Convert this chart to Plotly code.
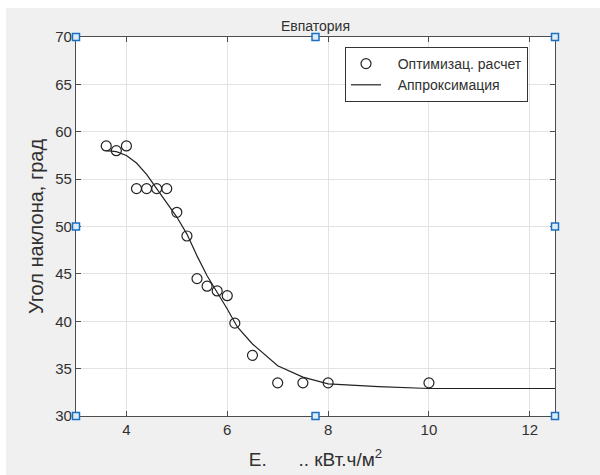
import plotly.graph_objects as go

# Optimization results
opt_x = [3.6, 3.8, 4.0, 4.2, 4.4, 4.6, 4.8, 5.0, 5.2, 5.4, 5.6, 5.8, 6.0, 6.15, 6.5, 7.0, 7.5, 8.0, 10.0]
opt_y = [58.5, 58.0, 58.5, 54.0, 54.0, 54.0, 54.0, 51.5, 49.0, 44.5, 43.7, 43.2, 42.7, 39.8, 36.4, 33.5, 33.5, 33.5, 33.5]

# Approximation curve
fit_x = [3.6, 3.8, 4.0, 4.2, 4.4, 4.6, 4.8, 5.0, 5.2, 5.4, 5.6, 5.8, 6.0, 6.2, 6.5, 7.0, 7.5, 8.0, 9.0, 10.0, 12.5]
fit_y = [58.0, 57.9, 57.5, 56.7, 55.5, 54.0, 52.6, 51.0, 49.2, 46.9, 44.8, 43.1, 41.3, 39.4, 37.6, 35.3, 34.1, 33.4, 33.1, 32.9, 32.9]

x_ticks = [4, 6, 8, 10, 12]
y_ticks = [30, 35, 40, 45, 50, 55, 60, 65, 70]

TEXT = "#303030"
AX = "#4d4d4d"
FONT = "Liberation Sans, Arial, sans-serif"

fig = go.Figure()
fig.add_trace(go.Scatter(
    x=opt_x, y=opt_y, mode="markers", name="&nbsp;&nbsp;&nbsp;Оптимизац. расчет",
    marker=dict(symbol="circle-open", size=10, color="#222222", line=dict(width=1.2)),
))
fig.add_trace(go.Scatter(
    x=fit_x, y=fit_y, mode="lines", name="&nbsp;&nbsp;&nbsp;Аппроксимация",
    line=dict(color="#222222", width=1.2),
))

# page offset of the figure (body margin)
OX, OY = 6, 8
W, H = 600 - OX, 475 - OY
L, T = 76 - OX, 37 - OY
R = W - (555 - OX)
B = H - (416 - OY)
pw, ph = W - L - R, H - T - B

def px(x):
    """page pixel x -> paper fraction"""
    return (x - OX - L) / pw

def py(y):
    return 1 - (y - OY - T) / ph

shapes = []
# selection handles
for hx, hy in [(76, 37), (315.5, 37), (555, 37), (76, 226.5), (555, 226.5), (76, 416), (315.5, 416), (555, 416)]:
    shapes.append(dict(type="rect", xref="paper", yref="paper",
                       x0=px(hx - 3.5), x1=px(hx + 3.5), y0=py(hy + 3.5), y1=py(hy - 3.5),
                       fillcolor="#dcebf8", line=dict(color="#1a6fc0", width=1.5), layer="above"))

fig.update_layout(
    width=W, height=H,
    margin=dict(l=L, r=R, t=T, b=B, autoexpand=False),
    paper_bgcolor="#f0f0f0",
    plot_bgcolor="white",
    font=dict(family=FONT, color=TEXT, size=15),
    title=dict(text="Евпатория", x=(315.5 - OX) / W, xanchor="center", y=1 - (26 - OY) / H, yanchor="middle",
               font=dict(size=14, color=TEXT)),
    showlegend=True,
    legend=dict(x=px(345), y=py(47), xanchor="left", yanchor="top",
                bgcolor="white", bordercolor="#333333", borderwidth=1,
                font=dict(size=14, color=TEXT), tracegroupgap=0),
    shapes=shapes,
)
fig.update_xaxes(
    range=[3, 12.5], tickvals=x_ticks, ticks="inside", ticklen=5, tickcolor=AX,
    showline=True, linecolor=AX, linewidth=1.2, mirror="ticks",
    showgrid=True, gridcolor="#e3e3e3", zeroline=False, automargin=False,
    title=dict(text="E.&nbsp;&nbsp;&nbsp;&nbsp;&nbsp;&nbsp;.. кВт.ч/м<sup>2</sup>",
               font=dict(size=19, color=TEXT), standoff=15),
    tickfont=dict(size=15, color=TEXT),
)
fig.update_yaxes(
    range=[30, 70], tickvals=y_ticks, ticks="inside", ticklen=5, tickcolor=AX,
    showline=True, linecolor=AX, linewidth=1.2, mirror="ticks",
    showgrid=True, gridcolor="#e3e3e3", zeroline=False, automargin=False,
    title=dict(text="Угол наклона, град", font=dict(size=20, color=TEXT), standoff=6),
    tickfont=dict(size=15, color=TEXT),
)

fig.write_html("out.html", post_script="document.body.style.margin='8px 0 0 6px';")
